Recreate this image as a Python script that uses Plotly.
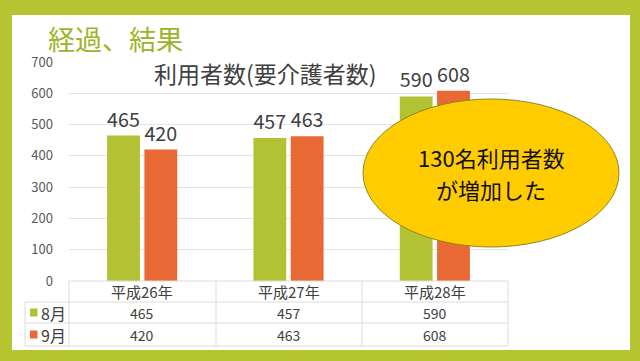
import plotly.graph_objects as go

categories = ["平成26年", "平成27年", "平成28年"]
series_names = ["8月", "9月"]
aug_values = [465, 457, 590]
sep_values = [420, 463, 608]
y_ticks = [0, 100, 200, 300, 400, 500, 600, 700]

GREEN = "#b3c232"
ORANGE = "#e96935"
BORDER = "#b5c431"
TXT = "#404040"
FONT = "Noto Sans CJK JP"

W, H = 640, 361
def px(x):
    return x / W
def py(y):
    return 1 - y / H

x0, x1 = 69, 508
y_zero, y_top = 281, 62

fig = go.Figure()
for name, vals, col in [(series_names[0], aug_values, GREEN), (series_names[1], sep_values, ORANGE)]:
    fig.add_trace(go.Bar(
        x=categories, y=vals, name=name, marker=dict(color=col, line=dict(width=0)),
        text=[str(v) for v in vals], textposition="outside",
        textfont=dict(size=20, color=TXT, family=FONT), cliponaxis=False,
    ))

fig.update_layout(
    width=W, height=H, margin=dict(l=0, r=0, t=0, b=0, autoexpand=False),
    paper_bgcolor=BORDER, plot_bgcolor="rgba(0,0,0,0)",
    showlegend=False, barmode="group", bargap=0.49, bargroupgap=0.12,
    font=dict(family=FONT, color=TXT),
    xaxis=dict(domain=[px(x0), px(x1)], showticklabels=False, showgrid=False,
               zeroline=False, showline=False, ticks="", automargin=False),
    yaxis=dict(domain=[py(y_zero), py(y_top)], range=[0, 700], tickvals=y_ticks,
               showgrid=True, gridcolor="#e3e3e3", gridwidth=1, zeroline=False,
               tickfont=dict(size=13, color="#595959", family=FONT), ticklabelstandoff=15,
               showline=False, automargin=False),
)

shapes = []
# white slide area
shapes.append(dict(type="rect", xref="paper", yref="paper", x0=px(12), x1=px(630),
                   y0=py(350), y1=py(15), fillcolor="white", line=dict(width=0), layer="below"))
# table lines
LC = "#dcdcdc"
row_lines = [281, 302, 323, 346]
for i, yy in enumerate(row_lines):
    xs = x0 if i == 0 else 25
    shapes.append(dict(type="line", xref="paper", yref="paper", x0=px(xs), x1=px(x1),
                       y0=py(yy), y1=py(yy), line=dict(color=LC, width=1)))
for xx in [x0, 216, 362, x1]:
    shapes.append(dict(type="line", xref="paper", yref="paper", x0=px(xx), x1=px(xx),
                       y0=py(281), y1=py(346), line=dict(color=LC, width=1)))
shapes.append(dict(type="line", xref="paper", yref="paper", x0=px(25), x1=px(25),
                   y0=py(302), y1=py(346), line=dict(color=LC, width=1)))
# legend keys
for yy, col in [(312.5, GREEN), (334.5, ORANGE)]:
    shapes.append(dict(type="rect", xref="paper", yref="paper", x0=px(30), x1=px(37.5),
                       y0=py(yy + 4), y1=py(yy - 4), fillcolor=col, line=dict(width=0)))
# ellipse callout
shapes.append(dict(type="circle", xref="paper", yref="paper", x0=px(363), x1=px(619),
                   y0=py(247), y1=py(99), fillcolor="#ffcc00",
                   line=dict(color="#8a8a1e", width=1), layer="above"))
fig.update_layout(shapes=shapes)

ann = []
ann.append(dict(text="経過、結果", xref="paper", yref="paper", x=px(46), y=py(39),
                xanchor="left", yanchor="middle", showarrow=False,
                font=dict(size=27, color="#9db42a", family=FONT)))
ann.append(dict(text="利用者数(要介護者数)", xref="paper", yref="paper", x=px(265), y=py(73),
                xanchor="center", yanchor="middle", showarrow=False,
                font=dict(size=23, color=TXT, family=FONT)))
for c in categories:
    ann.append(dict(text=c, xref="x", yref="paper", x=c, y=py(291.5), xanchor="center",
                    yanchor="middle", showarrow=False, font=dict(size=15, color=TXT, family=FONT)))
for name, vals, yy in [(series_names[0], aug_values, 312.5), (series_names[1], sep_values, 334.5)]:
    ann.append(dict(text=name, xref="paper", yref="paper", x=px(39), y=py(yy), xanchor="left",
                    yanchor="middle", showarrow=False, font=dict(size=16, color=TXT, family=FONT)))
    for c, v in zip(categories, vals):
        ann.append(dict(text=str(v), xref="x", yref="paper", x=c, y=py(yy), xanchor="center",
                        yanchor="middle", showarrow=False, font=dict(size=14, color=TXT, family=FONT)))
for line, yy in [("130名利用者数", 156.5), ("が増加した", 189)]:
    ann.append(dict(text=line, xref="paper", yref="paper", x=px(491), y=py(yy),
                    xanchor="center", yanchor="middle", showarrow=False,
                    font=dict(size=22, color="#111111", family=FONT)))
fig.update_layout(annotations=ann)

fig.write_html("out.html", config={"displayModeBar": False},
               post_script="document.body.style.margin='0';document.body.style.padding='0';")
